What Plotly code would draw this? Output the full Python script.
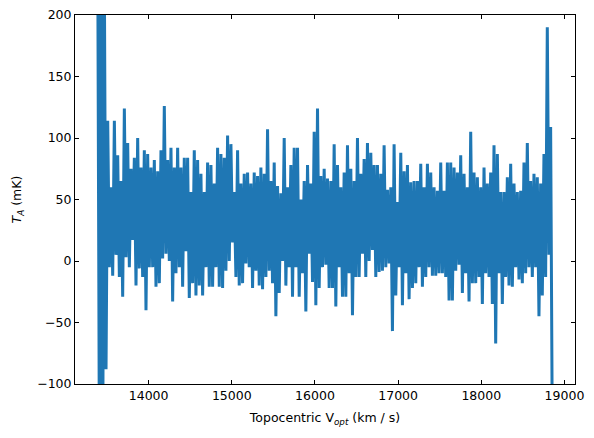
import numpy as np
import plotly.graph_objects as go

# channel velocities of the spectrum (topocentric, optical convention)
v_first = 13388.0
v_last = 18854.0

# antenna temperature (mK), read channel by channel off the spectrum
t_edge = [260, -150, 250, -160, 230, -88]
t_part1 = [114, -5, 60, -12, 114, 5, 86, -13, 65, -29, 124, 3, 96, -5, 75, 17,
           84, -20, 100, -6, 76, -13, 90, -40, 87, -5]
t_part2 = [76, -5, 82, -21, 73, -18, 90, 2, 126, 6, 82, 0, 92, -33, 76, -10, 92, -5,
           76, -21, 84, 8, 84, -30, 56, -18, 90, -28, 82, -20, 71, -28, 56, -5, 80, -21]
t_part3 = [78, -21, 63, -5, 92, -21, 87, -22, 84, -8, 102, 0, 95, 15, 56, -13, 90, -20,
           63, -18, 71, -2, 72, -5, 63, -22, 72, -8, 69, -20, 76, -23, 71, -13, 107, -8]
t_part4 = [65, -18, 80, -45, 61, -26, 55, 0, 100, -20, 60, -5, 78, -29, 92, -5, 92, -29,
           50, -10, 65, -41, 78, 6, 63, -17, 105, -36, 124, -22, 69, -5, 75, -3, 67, -22]
t_part5 = [65, -22, 95, -37, 78, -5, 60, -29, 72, -29, 94, -10, 75, -44, 65, -13, 100, -13,
           71, 6, 83, -13, 96, 0, 88, 9, 78, -13, 78, -9, 71, -8, 94, -5, 58, -2]
t_part6 = [60, -57, 95, -28, 48, -5, 88, -36, 73, -10, 78, -31, 64, -22, 65, -18, 65, -5,
           79, -21, 60, -13, 79, -5, 72, -12, 60, -12, 57, -10, 80, -10, 57, -13, 80, -32]
t_part7 = [80, -32, 76, -8, 72, -3, 86, -26, 71, -10, 60, -33, 105, -18, 72, -18, 68, -13,
           60, -35, 76, -10, 63, -13, 72, -35, 94, -67, 87, -10, 56, -35, 56, -13, 68, -20]
t_part8 = [79, -21, 63, -5, 56, -15, 57, -18, 80, -10, 96, -5, 65, -13, 71, -5, 68, -45,
           63, -28, 87, -13, 190, 5, 109, -140]

t_mk = (t_edge + t_part1 + t_part2 + t_part3 + t_part4 + t_part5 + t_part6
        + t_part7 + t_part8)
v_opt = np.linspace(v_first, v_last, len(t_mk))

fig = go.Figure()

fig.add_trace(go.Scatter(
    x=v_opt,
    y=t_mk,
    mode='lines',
    line=dict(color='#1f77b4', width=3),
    showlegend=False
))

axis_style = dict(
    showline=True,
    linecolor='black',
    linewidth=1,
    mirror='ticks',
    ticks='inside',
    ticklen=4,
    tickwidth=1,
    tickcolor='black',
    showgrid=False,
    zeroline=False,
    automargin=False,
    ticklabeloverflow='allow',
    tickfont=dict(family='DejaVu Sans', size=12.5, color='black'),
)

# the page body adds an 8 px offset, so the figure is sized to fit inside it
fig.update_layout(
    width=586,
    height=430,
    margin=dict(l=67, r=19, t=7, b=54),
    paper_bgcolor='white',
    plot_bgcolor='white',
    font=dict(family='DejaVu Sans', size=12.5, color='black'),
    xaxis=dict(
        axis_style,
        range=[13115, 19127],
        tickvals=[14000, 15000, 16000, 17000, 18000, 19000],
        tickformat='d',
        title=dict(text='Topocentric V<sub><i>opt</i></sub> (km / s)',
                   font=dict(family='DejaVu Sans', size=12.5), standoff=11),
    ),
    yaxis=dict(
        axis_style,
        range=[-100, 200],
        tickvals=[-100, -50, 0, 50, 100, 150, 200],
        title=dict(text='<i>T</i><sub><i>A</i></sub> (mK)',
                   font=dict(family='DejaVu Sans', size=12.5), standoff=12),
    ),
)

fig.write_html("out.html")
